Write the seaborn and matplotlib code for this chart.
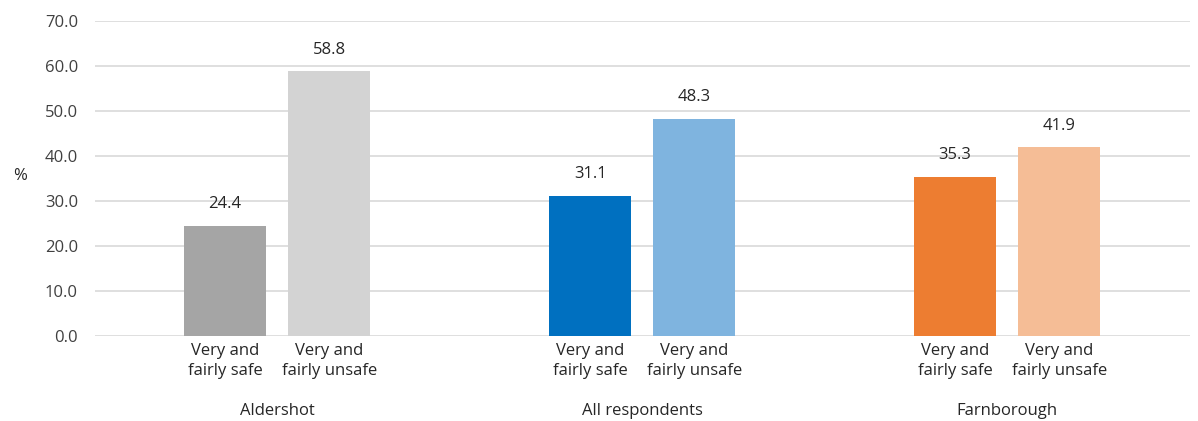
"""
Feeling of safety by area - bar chart
"""
import pandas as pd
import numpy as np
import matplotlib
matplotlib.use('Agg')
import matplotlib.pyplot as plt
import seaborn as sns

groups = ['Aldershot', 'All respondents', 'Farnborough']
answers = ['Very and\nfairly safe', 'Very and\nfairly unsafe']
safe = [24.4, 31.1, 35.3]
unsafe = [58.8, 48.3, 41.9]
safe_colors = ['#A5A5A5', '#0070C0', '#ED7D31']
unsafe_colors = ['#D3D3D3', '#7FB4DF', '#F5BD96']

df = pd.DataFrame({
    'group': groups * 2,
    'answer': [answers[0]] * 3 + [answers[1]] * 3,
    'value': safe + unsafe,
})

sns.set_style('white')
plt.rcParams['font.family'] = ['Open Sans', 'DejaVu Sans']

fig, ax = plt.subplots(figsize=(11.98, 4.21), dpi=100)
fig.subplots_adjust(left=0.079, right=0.993, top=0.95, bottom=0.202)

sns.barplot(data=df, x='group', y='value', hue='answer', order=groups,
            hue_order=answers, dodge=True, width=0.57, gap=0.21,
            legend=False, ax=ax)

# recolour each bar (patches come ordered by hue level, then group)
colors = safe_colors + unsafe_colors
for p, c in zip(ax.patches, colors):
    p.set_facecolor(c)
    p.set_edgecolor('none')

for cont in ax.containers:
    ax.bar_label(cont, fmt='%.1f', padding=10, fontsize=12, color='#262626')

ax.set_ylim(0, 70)
ax.set_xlim(-0.5, 2.5)
ax.set_yticks(np.arange(0, 71, 10))
ax.set_yticklabels([f'{v:.1f}' for v in np.arange(0, 71, 10)], fontsize=12, color='#404040')
ax.yaxis.grid(True, color='#D9D9D9', linewidth=1.2)
ax.set_axisbelow(True)
ax.tick_params(axis='y', length=0, pad=12)
for s in ax.spines.values():
    s.set_visible(False)

# bar labels on the primary x axis
centers = [p.get_x() + p.get_width() / 2 for p in ax.patches]
ax.set_xticks(centers)
ax.set_xticklabels([answers[0]] * 3 + [answers[1]] * 3, fontsize=12,
                   color='#262626', linespacing=1.3)
ax.tick_params(axis='x', length=0, pad=5)

# group labels underneath
sec = ax.secondary_xaxis('bottom')
sec.set_xticks(range(len(groups)))
sec.set_xticklabels(groups, fontsize=12, color='#262626')
sec.tick_params(length=0, pad=48)
sec.spines['bottom'].set_visible(False)

ax.set_xlabel('')
ax.set_ylabel('%', rotation=0, fontsize=12, color='#262626', va='center', ha='center')
ax.yaxis.set_label_coords(-0.068, 0.508)

plt.savefig('out.png', dpi=100)
